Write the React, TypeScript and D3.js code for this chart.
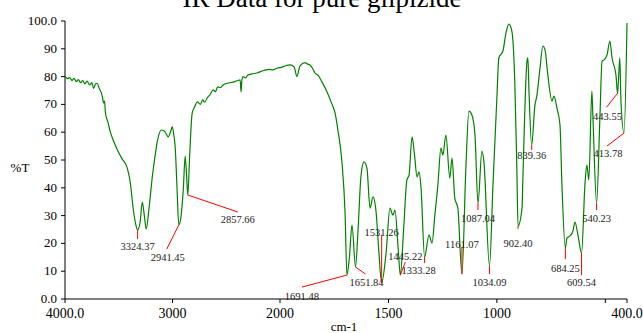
import * as d3 from 'd3';
import React from 'react';

// spectrum (cm-1, %T)
const wavenumbers = [
  4000, 3975, 3955, 3935, 3915, 3895, 3875, 3855, 3835, 3815, 3795, 3770, 3750, 3735, 3715, 3700,
  3680, 3665, 3652, 3640, 3632, 3624, 3600, 3578, 3550, 3513, 3470, 3420, 3392, 3364, 3340, 3324.37,
  3300, 3281, 3262, 3244, 3220, 3188, 3160, 3142, 3104, 3080, 3060, 3040, 3020, 3002, 2990, 2975,
  2960, 2941.45, 2920, 2900, 2882, 2870, 2857.66, 2840, 2817, 2795, 2770, 2740, 2720, 2700, 2678,
  2650, 2622, 2600, 2580, 2555, 2529, 2500, 2470, 2436, 2400, 2371, 2362, 2355, 2344, 2320, 2300,
  2260, 2214, 2180, 2150, 2100, 2066, 2030, 2000, 1970, 1954, 1935, 1922, 1908, 1885, 1872, 1862,
  1850, 1839, 1825, 1806, 1783, 1760, 1746, 1733, 1714, 1700, 1691.48, 1680, 1668, 1651.84, 1640,
  1627, 1613, 1599, 1585, 1571, 1557, 1545, 1531.26, 1511, 1493, 1479, 1470, 1455, 1445.22, 1430,
  1415, 1405, 1391, 1380, 1368, 1359, 1350, 1333.28, 1313, 1299, 1286, 1272, 1258, 1249, 1235,
  1217, 1207, 1194, 1180, 1161.07, 1143, 1129, 1115, 1101, 1087.04, 1069, 1060, 1034.09, 1018,
  1000, 991, 972, 958, 945, 931, 917, 908, 902.4, 884, 880, 861, 857, 852, 839.36, 825, 816, 801,
  788, 778, 765, 746, 737, 723, 709, 700, 684.25, 677, 663, 649, 640, 626, 609.54, 594, 585, 576,
  562, 557, 540.23, 525, 515, 506, 492, 479, 469, 451, 443.55, 433, 428, 413.78, 400,
];
const transmittance = [
  80.2, 79.3, 79.6, 78.6, 79.4, 78.2, 78.9, 77.8, 78.6, 77.4, 78.4, 77.0, 77.8, 75.8, 77.4, 77.6,
  75.5, 74.5, 72.7, 70.5, 71.2, 67, 63.5, 60, 57, 53.6, 50.5, 47, 41.7, 32, 26.5, 24.8,
  28, 34.9, 30, 25.2, 32, 43.9, 52, 56.5, 60.8, 60.5, 59.5, 58.3, 60, 61.9, 59.5, 54.7,
  42, 26.6, 30, 39.2, 51.4, 45, 37.4, 52, 66.9, 69, 70.9, 70, 71.6, 70.8, 72.3,
  73.5, 75.2, 74.6, 76.3, 76, 77, 77.5, 77.8, 78, 78.5, 78.8, 74.5, 78.5, 80, 79.5, 80.6,
  81, 81.3, 81.8, 82.2, 82.6, 82.4, 83, 83.2, 84, 84.2, 83.5, 80, 83.8, 85, 84.5, 84.2,
  83, 81.3, 80.5, 78, 74.5, 70, 66.9, 60.8, 48.9, 30.9, 8.6, 15, 26.6, 11.5, 25,
  43.9, 49.3, 47, 32.7, 36.7, 31.3, 18, 5.8, 16.5, 32.7, 30.2, 32, 18, 8.6, 25,
  42.8, 44.6, 58.3, 52, 43.9, 45.7, 40.3, 15.1, 23, 20.1, 30.2, 41, 54.3, 51.8, 59,
  43.5, 50.7, 36.3, 32.7, 9, 47, 67.6, 66.2, 59, 34.5, 53.2, 49.6, 11.9, 41,
  72.3, 86.7, 89.2, 95.7, 98.9, 96.4, 77, 47, 26.3, 32.7, 43.5, 85.6, 86.7, 74.8, 55.4, 69.4, 73, 83.1,
  91, 89.6, 80.6, 71.2, 73, 68.7, 62.6, 41, 18.3, 21.9, 22.7, 24.5, 27.7, 23, 16.5, 41, 48.2, 42.8,
  74.8, 65.1, 34.5, 65.1, 85.6, 86, 87.8, 92.8, 86.7, 80.6, 74, 86.7, 71.2, 59.7, 99.3,
];

// picked peaks
const peakWavenumbers = [
  3324.37, 2941.45, 2857.66, 1691.48, 1651.84, 1531.26, 1445.22, 1333.28, 1161.07,
  1087.04, 1034.09, 902.4, 839.36, 684.25, 609.54, 540.23, 443.55, 413.78,
];
const peakValues = [
  24.8, 26.6, 37.4, 8.6, 11.5, 5.8, 8.6, 15.1, 9, 34.5, 11.9, 26.3, 55.4, 18.3, 16.5, 34.5, 74, 59.7,
];

const yTicks = [0, 10, 20, 30, 40, 50, 60, 70, 80, 90, 100];
const xTicks = [4000, 3000, 2000, 1500, 1000, 500, 400];
const xTickLabels = ['4000.0', '3000', '2000', '1500', '1000', '', '400.0'];

// leader line end and label offsets from each peak (px): [lineDx, lineDy, labelDx, labelDy]
const callouts = [
  [0, 9, 0, 20], [-12, 24, -11, 36], [50, 17, 50, 28], [-45, 12, -45, 25],
  [10, 7, 11, 19], [0, -48, 0, -47], [5, -13, 5, -15], [0, 6, -6, 17],
  [0, -27, 0, -26], [0, 7, 0, 19], [0, 8, 0, 20], [0, 3, 0, 21],
  [0, 5, 0, 14], [0, 11, 0, 24], [0, 22, 0, 33], [0, 7, 0, 19],
  [-11, 14, -10, 27], [-17, 13, -16, 24],
];

const W = 643;
const H = 333;
const font = "'Liberation Serif', 'Times New Roman', serif";

const App: React.FC = () => {
  // IR charts double the scale below 2000 cm-1
  const x = d3.scaleLinear().domain([4000, 2000, 400]).range([65, 280, 627]);
  const y = d3.scaleLinear().domain([0, 100]).range([299, 21]);

  const pts = wavenumbers.map((w, i) => [w, transmittance[i]] as [number, number]);
  const line = d3
    .line<[number, number]>()
    .x(d => x(d[0]))
    .y(d => y(d[1]))
    .curve(d3.curveMonotoneX);

  return (
    <svg width={W} height={H} style={{ position: 'absolute', left: 0, top: 0, fontFamily: font }}>
      <rect width={W} height={H} fill="#fff" />
      <text x={322} y={7} textAnchor="middle" fontSize={27}>IR Data for pure glipizide</text>

      {/* y axis */}
      <line x1={65} x2={65} y1={y(100)} y2={y(0)} stroke="#000" />
      {yTicks.map(t => (
        <g key={t}>
          <line x1={61} x2={65} y1={y(t)} y2={y(t)} stroke="#000" />
          <text x={57} y={y(t) + 4} textAnchor="end" fontSize={13}>
            {t === 0 || t === 100 ? t.toFixed(1) : t}
          </text>
        </g>
      ))}
      <text x={20} y={172} textAnchor="middle" fontSize={13}>%T</text>

      {/* x axis */}
      <line x1={x(4000)} x2={x(400)} y1={299} y2={299} stroke="#000" />
      {xTicks.map((t, i) => (
        <g key={t}>
          <line x1={x(t)} x2={x(t)} y1={299} y2={303} stroke="#000" />
          <text x={x(t)} y={318} textAnchor="middle" fontSize={14}>{xTickLabels[i]}</text>
        </g>
      ))}
      <text x={344} y={331} textAnchor="middle" fontSize={13}>cm-1</text>

      <path d={line(pts) ?? ''} fill="none" stroke="#008000" strokeWidth={1.2} />

      {peakWavenumbers.map((w, i) => {
        const px = x(w);
        const py = y(peakValues[i]);
        const [ldx, ldy, tdx, tdy] = callouts[i];
        return (
          <g key={w}>
            <line x1={px} y1={py} x2={px + ldx} y2={py + ldy} stroke="#ff0000" strokeWidth={1} />
            <text x={px + tdx} y={py + tdy} textAnchor="middle" fontSize={10.5} fill="#222">
              {w.toFixed(2)}
            </text>
          </g>
        );
      })}
    </svg>
  );
};

export default App;
